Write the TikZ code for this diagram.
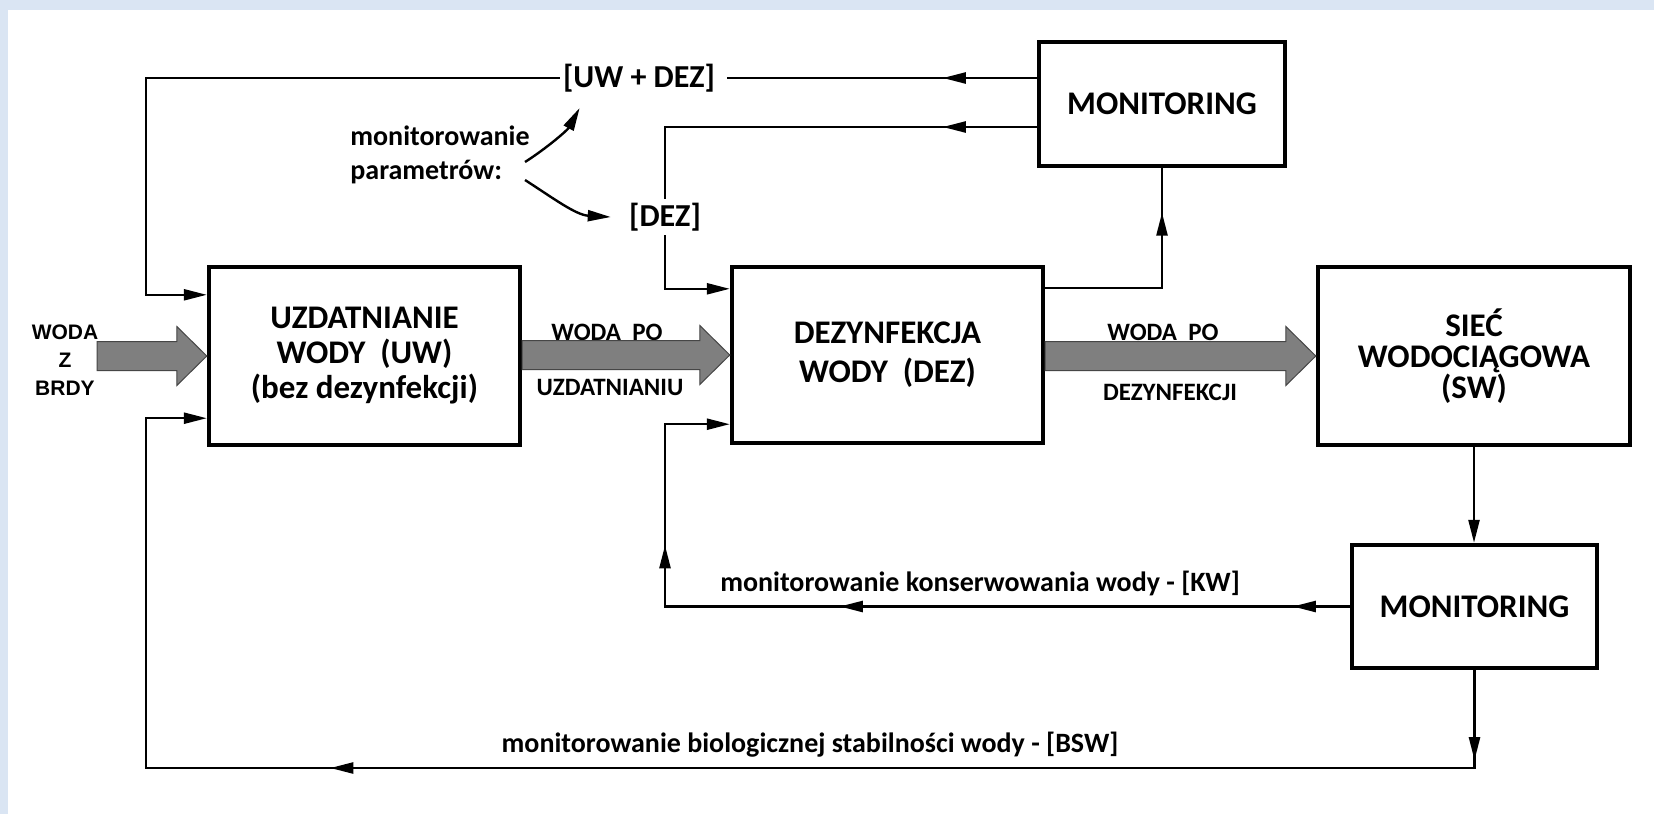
\documentclass[tikz,border=0pt]{standalone}
\usepackage{fontspec}
\setmainfont{Carlito}
\newfontfamily\arialfont{Liberation Sans}
\usetikzlibrary{arrows.meta,calc,decorations.markings}
\definecolor{bgblue}{RGB}{218,229,243}
\definecolor{fatgray}{RGB}{127,127,127}
\definecolor{fatedge}{RGB}{70,70,70}
\tikzset{
  Tri/.tip={Triangle[length=11.5pt,width=5.5pt]},
  conn/.style={line width=1.2pt},
  blk/.style={draw,line width=2.2pt,fill=white,align=center,inner sep=0pt,
    font=\bfseries\fontsize{16.5}{#1}\selectfont},
  lab/.style={font=\bfseries\fontsize{14}{17}\selectfont,inner sep=0pt},
  biglab/.style={font=\bfseries\fontsize{16}{19}\selectfont,inner sep=1.5pt},
  smalllab/.style={font=\bfseries\fontsize{12.5}{15}\selectfont,inner sep=0pt},
  fat/.style={fill=fatgray,draw=fatedge,line width=0.5pt},
  midarr/.style={postaction={decorate},decoration={markings,
    mark=at position #1 with {\arrow{Tri}}}},
  midarrtwo/.style 2 args={postaction={decorate},decoration={markings,
    mark=at position #1 with {\arrow{Tri}},
    mark=at position #2 with {\arrow{Tri}}}},
  midarrthree/.style n args={3}{postaction={decorate},decoration={markings,
    mark=at position #1 with {\arrow{Tri}},
    mark=at position #2 with {\arrow{Tri}},
    mark=at position #3 with {\arrow{Tri}}}},
}
\newcommand\fatarrow[2]{%
  \path (#1 |- #2) coordinate (fatS) (#2) coordinate (fatT);
  \draw[fat] ($(fatS)+(0,-14.5)$) -- ($(fatT)+(-30,-14.5)$) -- ($(fatT)+(-30,-29.5)$)
    -- (fatT) -- ($(fatT)+(-30,29.5)$) -- ($(fatT)+(-30,14.5)$)
    -- ($(fatS)+(0,14.5)$) -- cycle;}
\begin{document}
\begin{tikzpicture}[x=0.5pt,y=-0.5pt]
\useasboundingbox (0,0) rectangle (1654,814);
\fill[bgblue] (0,0) rectangle (1654,814);
\fill[white] (8,10) rectangle (1654,814);

% blocks
\node[blk=17.5pt,minimum width=155.5pt,minimum height=89pt] (uw) at (364.5,356)
  {UZDATNIANIE\\WODY~~(UW)\\(bez dezynfekcji)};
\node[blk=19.5pt,minimum width=155.5pt,minimum height=88pt] (dez) at (887.5,355)
  {DEZYNFEKCJA\\WODY~~(DEZ)};
\node[blk=15.5pt,minimum width=156pt,minimum height=89pt] (sw) at (1474,356)
  {SIEĆ\\WODOCIĄGOWA\\(SW)};
\node[blk=19pt,minimum width=123pt,minimum height=62pt] (mon1) at (1162,104)
  {MONITORING};
\node[blk=19pt,minimum width=122.5pt,minimum height=61.5pt] (mon2) at (1474.5,606.5)
  {MONITORING};

% labels
\node[biglab] (uwdez) at (639,78) {[UW + DEZ]};
\node[biglab,inner sep=2pt] (dezl) at (665,217) {[DEZ]};
\node[lab,anchor=west,align=left] (mp) at (350,155) {monitorowanie\\parametrów:};
\node[font=\arialfont\bfseries\fontsize{10.5}{14}\selectfont,align=center,inner sep=0pt]
  (wodaz) at (65,360) {WODA\\Z\\BRDY};
\node[smalllab] (l1) at (607,332) {WODA~~PO};
\node[smalllab] (l2) at (610,387) {UZDATNIANIU};
\node[smalllab] (l3) at (1163,332) {WODA~~PO};
\node[smalllab] (l4) at (1170,392) {DEZYNFEKCJI};
\node[lab] (kwl) at (980,583) {monitorowanie konserwowania wody - [KW]};
\node[lab] (bswl) at (810,745) {monitorowanie biologicznej stabilności wody - [BSW]};

% coordinates
\coordinate (src) at (97,357.5);
\coordinate (tl) at (146,78);
\coordinate (c2) at (665,127);
\coordinate (bl) at (146,768);

% fat arrows
\fatarrow{src}{uw.west}
\fatarrow{uw.east}{dez.west}
\fatarrow{dez.east}{sw.west}

% connectors
\draw[conn,midarr=47pt] (mon1.west |- uwdez) -- ($(uwdez.east)+(9,0)$);
\draw[conn,-Tri] (uwdez.west) -- (tl) |- ($(uw.north west)+(0,30)$);

\draw[conn,midarr=47pt] (mon1.west |- c2) -- (c2) -- (dezl);
\draw[conn,-Tri] (dezl) |- ($(dez.north west)+(0,24)$);

\draw[conn,midarr=96pt] ($(dez.north east)+(0,23)$) -| (mon1.south);

\draw[conn,-Tri] (sw.south) -- (sw.south |- mon2.north);

\draw[conn,-Tri,midarrthree={28.5pt}{255pt}{373pt}]
  (mon2.west) -- (mon2.west -| c2) |- ($(dez.south west)+(0,-21)$);

\draw[conn,-Tri,midarrtwo={45pt}{621pt}]
  (mon2.south) -- (mon2.south |- bl) -- (bl) |- ($(uw.south west)+(0,-29)$);

\draw[conn,-Tri] ($(mp.east)+(-5,7)$) .. controls +(22,-14) and +(-12,22) .. ($(uwdez.west)+(20,30)$);
\draw[conn,-Tri] ($(mp.east)+(-5,25)$) .. controls +(28,18) and +(-35,-2) .. ($(dezl.west)+(-14,0)$);
\end{tikzpicture}
\end{document}
